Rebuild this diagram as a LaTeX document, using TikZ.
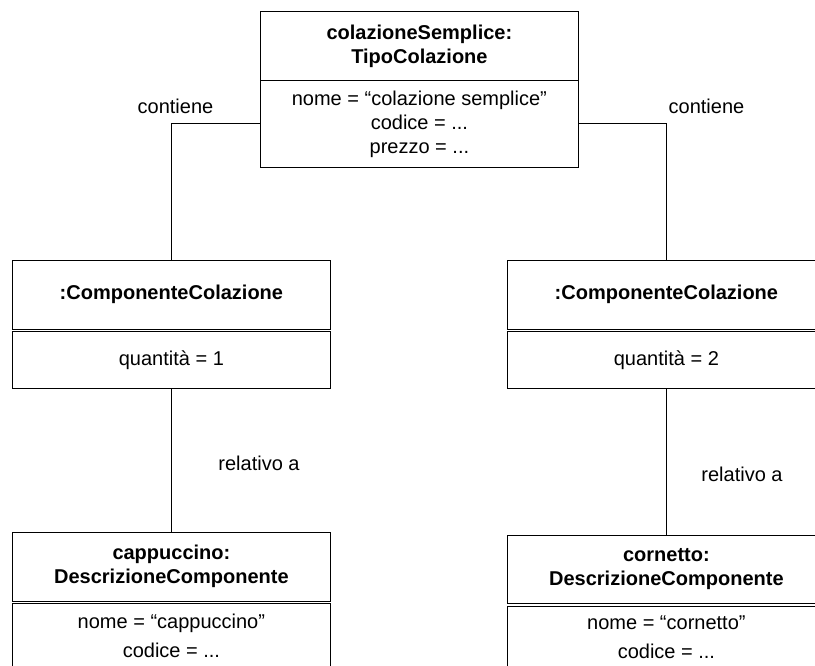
\documentclass[tikz,border=0pt]{standalone}
\usepackage{fontspec}
\setmainfont{Liberation Sans}
\begin{document}
\begin{tikzpicture}[x=1pt,y=-1pt,
  every node/.style={font=\fontsize{20}{24}\selectfont, inner sep=0pt},
  head/.style={draw, line width=0.8pt, minimum width=318pt, align=center,
    font=\fontsize{20}{24}\selectfont\bfseries, anchor=north west},
  attr/.style={draw, line width=0.8pt, minimum width=318pt, align=center,
    anchor=north west},
  link/.style={line width=0.8pt},
  tag/.style={font=\fontsize{20}{24}\selectfont}]
\useasboundingbox (0,0) rectangle (815,666);
\clip (0,0) rectangle (815,666);

% breakfast type object
\node[head, minimum height=69pt] (tophead) at (260,11) {colazioneSemplice:\\TipoColazione};
\node[attr, minimum height=87pt] (topattr) at (260,80)
  {nome = “colazione semplice”\\codice = ...\\prezzo = ...};

% component objects
\node[head, minimum height=68.5pt] (lmhead) at (12,260) {:ComponenteColazione};
\node[attr, minimum height=57pt] (lmattr) at (12,331) {quantità = 1};
\node[head, minimum height=68.5pt] (rmhead) at (507,260) {:ComponenteColazione};
\node[attr, minimum height=57pt] (rmattr) at (507,331) {quantità = 2};

% component descriptions
\node[head, minimum height=68.5pt] (lbhead) at (12,532) {cappuccino:\\DescrizioneComponente};
\node[attr, minimum height=64pt, font=\fontsize{20}{29}\selectfont] (lbattr) at (12,603)
  {nome = “cappuccino”\\codice = ...};
\node[head, minimum height=68pt] (rbhead) at (507,535) {cornetto:\\DescrizioneComponente};
\node[attr, minimum height=62pt, font=\fontsize{20}{29}\selectfont] (rbattr) at (507,605.5)
  {nome = “cornetto”\\codice = ...};

% links
\draw[link] (topattr.west) -| (lmhead.north);
\draw[link] (topattr.east) -| (rmhead.north);
\draw[link] (lmattr.south) -- (lbhead.north);
\draw[link] (rmattr.south) -- (rbhead.north);

% link names
\node[tag] (c1) at (175.5,106) {contiene};
\node[tag] (c2) at (706.5,106) {contiene};
\node[tag] (r1) at (259,463) {relativo a};
\node[tag] (r2) at (742,474) {relativo a};
\end{tikzpicture}
\end{document}
